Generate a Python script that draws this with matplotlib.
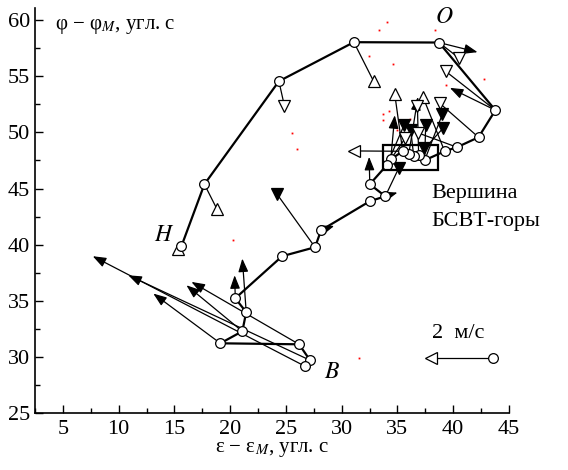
import numpy as np
import matplotlib.pyplot as plt
from matplotlib.patches import Rectangle

plt.rcParams['font.family'] = ['Liberation Serif', 'DejaVu Serif']
plt.rcParams['mathtext.fontset'] = 'stix'

# positions along the track, arc seconds relative to the reference point M
traj_eps = [15.63, 17.69, 24.37, 31.09, 38.72, 43.78, 42.27, 40.34, 39.23, 37.44,
            36.90, 36.46, 36.01, 35.47, 34.40, 34.04, 32.52, 33.91, 32.52, 28.15,
            27.61, 24.66, 20.46, 21.44, 21.09, 19.12, 26.18, 27.16, 26.72]
traj_phi = [39.86, 45.38, 54.56, 58.04, 58.01, 51.98, 49.57, 48.68, 48.32, 47.52,
            47.97, 47.88, 48.06, 48.32, 47.61, 47.08, 45.38, 44.31, 43.87, 41.28,
            39.77, 38.97, 35.22, 33.98, 32.28, 31.21, 31.12, 29.70, 29.16]

# velocity vectors: index of the start point, end point, end symbol
vec_start = [0, 1, 2, 3, 4, 4, 5, 5, 6, 13, 12, 8, 10, 9, 14, 15, 11, 10, 9,
             7, 14, 9, 17, 13, 16, 17, 19, 20, 23, 22, 25, 24, 26, 27, 28]
vec_eps = [15.35, 18.82, 24.87, 32.86, 42.18, 40.50, 39.32, 39.70, 38.81, 34.76,
           36.84, 37.29, 36.79, 39.02, 34.76, 35.59, 36.19, 39.11, 37.53, 36.84,
           35.68, 37.38, 35.14, 31.12, 32.46, 35.00, 29.33, 24.21, 21.09, 20.40,
           13.11, 16.08, 16.53, 10.87, 7.68]
vec_phi = [39.65, 43.16, 52.34, 54.56, 57.15, 56.64, 55.45, 53.97, 52.58, 53.40,
           53.16, 53.16, 52.34, 51.60, 51.53, 50.64, 50.20, 50.40, 50.64, 49.96,
           49.46, 48.57, 46.87, 48.35, 47.82, 44.64, 41.67, 44.49, 38.76, 37.27,
           35.64, 36.38, 36.68, 37.27, 38.97]
vec_mark = ['up', 'up', 'down', 'up', 'arrow', 'down', 'down', 'arrow', 'down', 'up',
            'arrow', 'up', 'down', 'fdown', 'arrow', 'fdown', 'fdown', 'fdown', 'fdown', 'down',
            'down', 'fdown', 'fdown', 'left', 'arrow', 'arrow', 'arrow', 'fdown', 'arrow', 'arrow',
            'arrow', 'arrow', 'arrow', 'arrow', 'arrow']

# isolated red points
red_eps = [34.02, 33.36, 32.41, 34.64, 42.80, 39.38, 38.33, 34.25, 33.66, 33.66,
           36.13, 35.00, 25.53, 26.00, 20.25, 31.51]
red_phi = [59.85, 59.17, 56.79, 56.14, 54.74, 54.21, 59.11, 51.92, 51.68, 51.09,
           51.24, 50.26, 49.96, 48.48, 40.37, 29.94]

# 2 m/s scale vector
scale_eps = [43.54, 37.98]
scale_phi = [29.94, 29.94]

fig = plt.figure(figsize=(5.68, 4.70), dpi=100)
ax = fig.add_axes([0.0616, 0.1213, 0.8345, 0.862])

tri = {'up': ('^', 'white'), 'down': ('v', 'white'), 'fdown': ('v', 'black'),
       'left': ('<', 'white')}

for i, ex, ey, m in zip(vec_start, vec_eps, vec_phi, vec_mark):
    sx, sy = traj_eps[i], traj_phi[i]
    if m == 'arrow':
        ax.annotate('', xy=(ex, ey), xytext=(sx, sy),
                    arrowprops=dict(arrowstyle='-|>,head_length=0.8,head_width=0.3',
                                    lw=0.9, color='k', shrinkA=0, shrinkB=0,
                                    mutation_scale=10), zorder=2)
    else:
        ax.plot([sx, ex], [sy, ey], color='k', lw=0.9, zorder=2)
        mk, fc = tri[m]
        ax.plot(ex, ey, marker=mk, ms=8.5, mfc=fc, mec='k', mew=0.9, zorder=4)

ax.plot(traj_eps, traj_phi, color='k', lw=1.6, zorder=3)
ax.plot(traj_eps, traj_phi, 'o', ms=7, mfc='white', mec='k', mew=0.9, zorder=5)

ax.plot(red_eps, red_phi, 's', ms=1.3, color='red', mew=0, zorder=1)

ax.add_patch(Rectangle((33.66, 46.69), 4.97, 2.17, fill=False, ec='k', lw=1.6, zorder=6))

ax.plot(scale_eps, scale_phi, color='k', lw=0.9)
ax.plot(scale_eps[0], scale_phi[0], 'o', ms=7, mfc='white', mec='k', mew=0.9)
ax.plot(scale_eps[1], scale_phi[1], '<', ms=8.5, mfc='white', mec='k', mew=0.9)
ax.text(38.1, 32.1, '2  м/с', fontsize=16, va='center', ha='left')

ax.text(38.0, 44.6, 'Вершина', fontsize=16, va='center', ha='left')
ax.text(38.0, 42.1, 'БСВТ-горы', fontsize=16, va='center', ha='left')
ax.text(39.2, 60.2, '$O$', fontsize=17, ha='center', va='center')
ax.text(14.1, 40.8, '$H$', fontsize=17, ha='center', va='center')
ax.text(29.1, 28.6, '$B$', fontsize=17, ha='center', va='center')
ax.text(4.3, 59.4, 'φ − φ$_M$, угл. с', fontsize=15, ha='left', va='center')

ax.set_xlim(2.64, 45)
ax.set_ylim(25, 61.1)
ax.set_xticks(np.arange(5, 46, 5))
ax.set_xticks(np.arange(2.5, 45.1, 2.5), minor=True)
ax.set_yticks(np.arange(25, 61, 5))
ax.set_yticks(np.arange(25, 61, 2.5), minor=True)
ax.tick_params(which='both', direction='in', labelsize=16, width=1.0)
ax.tick_params(which='major', length=6)
ax.tick_params(which='minor', length=3.5)
ax.tick_params(axis='x', pad=5)
ax.spines['top'].set_visible(False)
ax.spines['right'].set_visible(False)
for s in ('left', 'bottom'):
    ax.spines[s].set_linewidth(1.2)
ax.set_xlabel('ε − ε$_M$, угл. с', fontsize=15, labelpad=1)

fig.savefig('out.png', dpi=100)
